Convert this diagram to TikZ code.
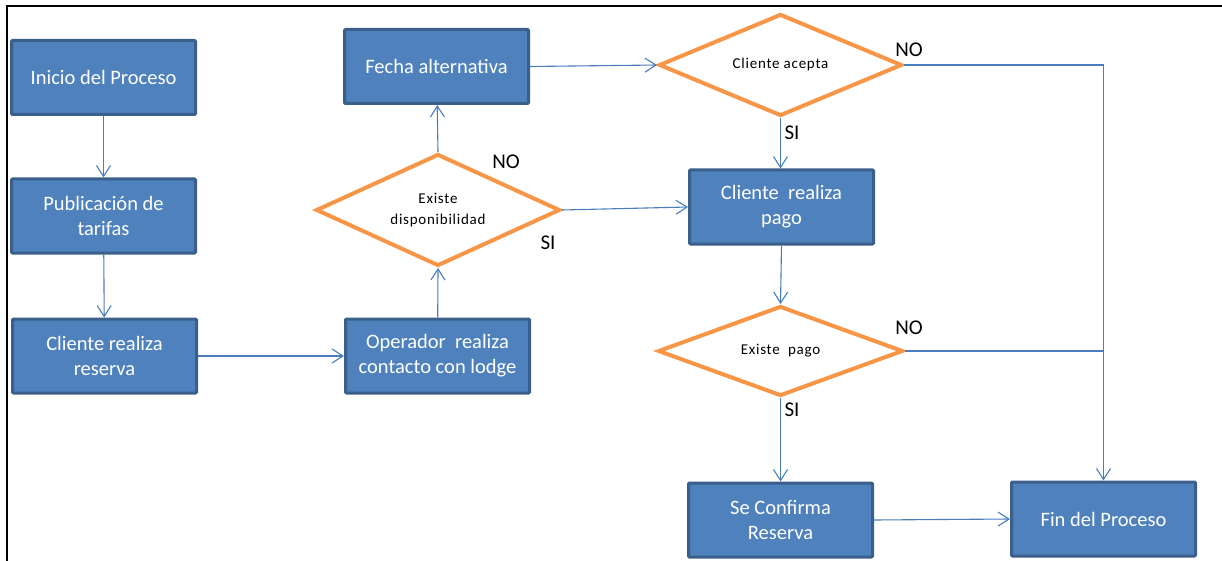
\documentclass[tikz,border=0pt]{standalone}
\usepackage{fontspec}
\setmainfont{Carlito}
\usetikzlibrary{shapes.geometric,arrows.meta}
\definecolor{boxfill}{HTML}{4F81BD}
\definecolor{boxline}{HTML}{3A5F8B}
\definecolor{decline}{HTML}{F79646}
\definecolor{flow}{HTML}{4A7EBB}
\tikzset{
  stepbox/.style={draw=boxline, fill=boxfill, line width=3pt, rounded corners=1pt,
    minimum width=184pt, minimum height=74pt, inner sep=0pt, align=center,
    text=white, font=\fontsize{20.5}{25}\selectfont},
  decision/.style={diamond, aspect=2.2, draw=decline, fill=white, line width=4pt, inner sep=0pt,
    align=center, font=\fontsize{15}{21}\selectfont\addfontfeature{LetterSpace=5}},
  flowline/.style={draw=flow, line width=1.1pt},
  flowarrow/.style={flowline, -{Straight Barb[length=11pt,width=14pt,line width=1.1pt]}},
  answer/.style={font=\fontsize{21}{22}\selectfont}
}
\begin{document}
\begin{tikzpicture}[x=1pt,y=-1pt]
\useasboundingbox (0,0) rectangle (1222,561);
% frame
\draw[line width=2pt] (7,561) -- (7,6) -- (1222,6);

% process boxes
\node[stepbox] (inicio) at (103.5,77.5) {Inicio del Proceso};
\node[stepbox] (tarifas) at (103.5,216) {Publicación de\\tarifas};
\node[stepbox] (reserva) at (104.5,356) {Cliente realiza\\reserva};
\node[stepbox] (operador) at (437.5,356) {Operador\ \ realiza\\contacto con lodge};
\node[stepbox] (fecha) at (436.5,66.5) {Fecha alternativa};
\node[stepbox] (pago) at (781.5,207) {Cliente\ \ realiza\\pago};
\node[stepbox] (confirma) at (780.5,520) {Se Confirma\\Reserva};
\node[stepbox] (fin) at (1103.5,519) {Fin del Proceso};

% decisions
\node[decision, minimum width=244pt, minimum height=112pt] (disp) at (438,210) {Existe\\disponibilidad};
\node[decision, minimum width=243pt, minimum height=102pt] (acepta) at (780.5,65) {Cliente acepta};
\node[decision, minimum width=245pt, minimum height=90pt] (existepago) at (780.5,351) {Existe\ \ pago};

% connectors
\draw[flowarrow] (inicio) -- (tarifas);
\draw[flowarrow] (tarifas) -- (reserva);
\draw[flowarrow] (reserva) -- (operador);
\draw[flowarrow] (operador) -- (disp.south);
\draw[flowarrow] (disp.north) -- (fecha);
\draw[flowarrow] (fecha.east) -- (acepta.west);
\draw[flowarrow] (disp.east) -- (pago.west);
\draw[flowarrow] (acepta.south) -- (pago.north -| acepta.south);
\draw[flowarrow] (acepta.east) -| (fin.north);
\draw[flowarrow] (pago.south) -- (existepago.north);
\draw[flowline] (existepago.east) -- (existepago.east -| fin.north);
\draw[flowarrow] (existepago.south) -- (confirma.north -| existepago.south);
\draw[flowarrow] (confirma.east) -- (fin.west);

% answer labels
\node[answer] (noDisp) at (506,162) {NO};
\node[answer] (siDisp) at (548,243) {SI};
\node[answer] (noAcepta) at (909,50) {NO};
\node[answer] (siAcepta) at (792,133) {SI};
\node[answer] (noPago) at (909,328) {NO};
\node[answer] (siPago) at (792,410) {SI};
\end{tikzpicture}
\end{document}
